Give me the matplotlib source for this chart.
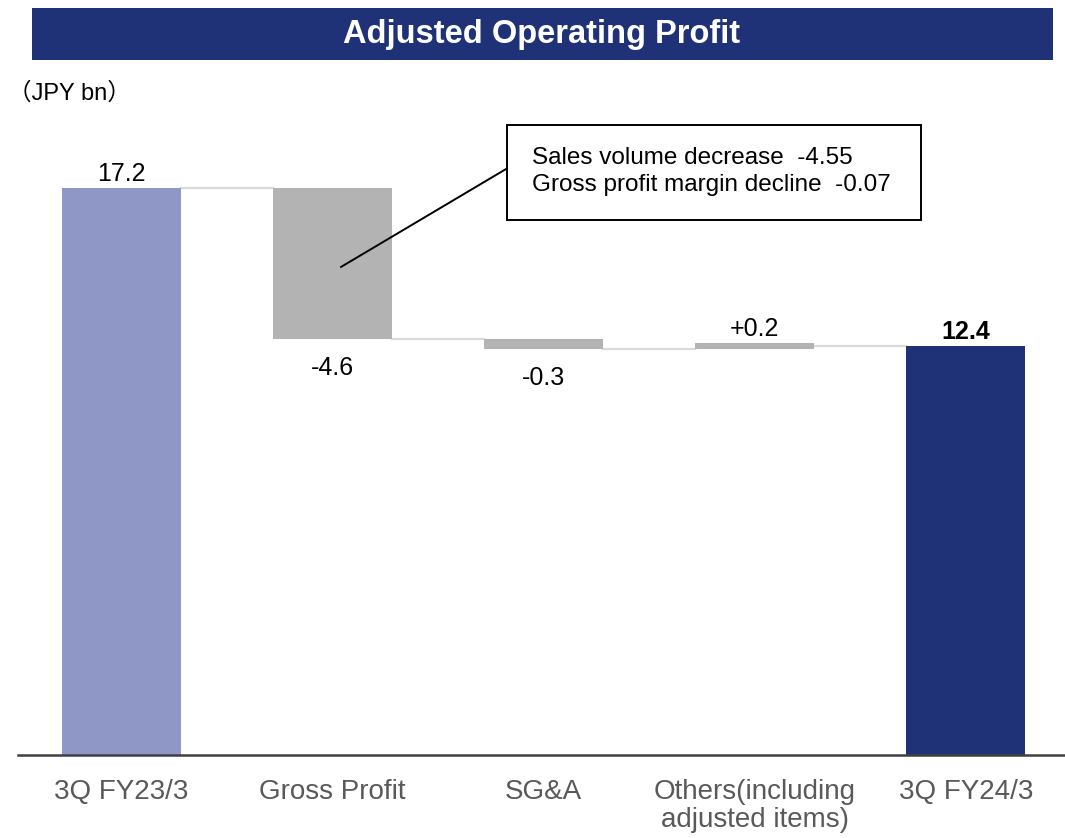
import matplotlib.pyplot as plt
from matplotlib.patches import Rectangle

plt.rcParams['font.family'] = ['Liberation Sans', 'Noto Sans CJK JP', 'DejaVu Sans']

# data
categories = ["3Q FY23/3", "Gross Profit", "SG&A", "Others(including\nadjusted items)", "3Q FY24/3"]
start_value = 17.2
deltas = [-4.6, -0.3, 0.2]
end_value = 12.4
value_labels = ["17.2", "-4.6", "-0.3", "+0.2", "12.4"]
gp_breakdown = ["Sales volume decrease  -4.55", "Gross profit margin decline  -0.07"]

c_start = "#8e97c5"
c_delta = "#b3b3b3"
c_end = "#1f3277"
c_conn = "#d9d9d9"

fig = plt.figure(figsize=(10.65, 8.38), dpi=100)
ax = fig.add_axes([0.017, 0.099, 0.983, 0.758])

width = 0.565
x = list(range(len(categories)))

# bars
bottoms, heights, colors = [0], [start_value], [c_start]
level = start_value
for d in deltas:
    bottoms.append(min(level, level + d))
    heights.append(abs(d))
    colors.append(c_delta)
    level += d
bottoms.append(0)
heights.append(end_value)
colors.append(c_end)
ax.bar(x, heights, bottom=bottoms, width=width, color=colors, zorder=2)

# connectors
levels = [start_value]
lv = start_value
for d in deltas:
    lv += d
    levels.append(lv)
levels[-1] = end_value
for i in range(len(categories) - 1):
    ax.plot([i + width / 2, i + 1 - width / 2], [levels[i], levels[i]],
            color=c_conn, lw=1.6, zorder=1)

# value labels
for i, lab in enumerate(value_labels):
    top = bottoms[i] + heights[i]
    if i in (0, len(categories) - 1):
        ax.text(i, top + 0.05, lab, ha='center', va='bottom', fontsize=18,
                fontweight='bold' if i == len(categories) - 1 else 'normal')
    elif deltas[i - 1] < 0:
        ax.text(i, bottoms[i] - 0.5, lab, ha='center', va='top', fontsize=18)
    else:
        ax.text(i, top + 0.05, lab, ha='center', va='bottom', fontsize=18)

# breakdown callout
ax.plot([1.04, 1.83], [14.8, 17.8], color='black', lw=1.4, zorder=3)
ax.add_patch(Rectangle((1.825, 16.23), 1.965, 2.88, facecolor='white',
                       edgecolor='black', lw=1.4, zorder=4))
ax.text(1.945, 18.1, gp_breakdown[0], ha='left', va='center', fontsize=17.5, zorder=5)
ax.text(1.945, 17.27, gp_breakdown[1], ha='left', va='center', fontsize=17.5, zorder=5)

ax.set_xlim(-0.49, 4.47)
ax.set_ylim(0, 19.26)
ax.set_xticks(x)
ax.set_xticklabels(categories, fontsize=20, color='#595959', linespacing=1.1)
ax.tick_params(axis='x', length=0, pad=17)
ax.set_yticks([])
for s in ['top', 'left', 'right']:
    ax.spines[s].set_visible(False)
ax.spines['bottom'].set_color('#404040')
ax.spines['bottom'].set_linewidth(1.8)

# title banner
fig.patches.append(Rectangle((32 / 1065, 1 - 60 / 838), 1021 / 1065, 52 / 838,
                             transform=fig.transFigure, facecolor=c_end, zorder=0))
fig.text(542 / 1065, 1 - 34 / 838, "Adjusted Operating Profit", ha='center', va='center',
         color='white', fontsize=23.5, fontweight='bold')
fig.text(8 / 1065, 1 - 94 / 838, "（JPY bn）", ha='left', va='center', fontsize=17)

fig.savefig("out.png", dpi=100)
